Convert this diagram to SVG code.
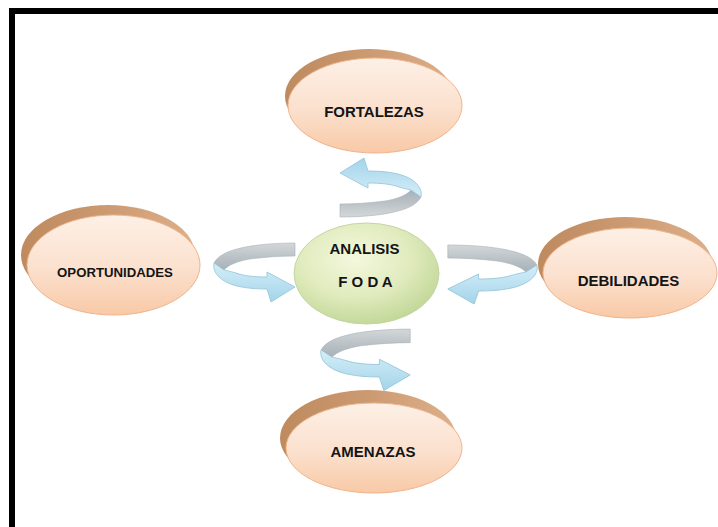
<svg xmlns="http://www.w3.org/2000/svg" width="718" height="527" viewBox="0 0 718 527">
<defs>
<style>
.lbl{font-family:"Liberation Sans",Arial,sans-serif;font-weight:bold;font-size:15px;fill:#141414;text-anchor:middle}
.main{fill:url(#peach);stroke:#f0b48c;stroke-width:1}
.shadow{fill:url(#brown)}
.back{fill:url(#grayband);stroke:#aab4ba;stroke-width:0.6}
.front{fill:url(#blueband);stroke:#93c3d8;stroke-width:0.8}
</style>
<linearGradient id="peach" x1="0" y1="0" x2="0" y2="1">
<stop offset="0" stop-color="#fdf0e6"/>
<stop offset="0.55" stop-color="#fbe0cd"/>
<stop offset="1" stop-color="#f8c9a6"/>
</linearGradient>
<linearGradient id="brown" x1="0" y1="0" x2="1" y2="0">
<stop offset="0" stop-color="#be8a5e"/>
<stop offset="0.5" stop-color="#cc9a71"/>
<stop offset="1" stop-color="#dcb08b"/>
</linearGradient>
<radialGradient id="green" cx="0.42" cy="0.35" r="0.7">
<stop offset="0" stop-color="#f4f8de"/>
<stop offset="0.55" stop-color="#e0ebbd"/>
<stop offset="1" stop-color="#bfd594"/>
</radialGradient>
<linearGradient id="grayband" x1="0" y1="0" x2="0" y2="1">
<stop offset="0" stop-color="#d3d7d9"/>
<stop offset="0.5" stop-color="#bcc3c7"/>
<stop offset="1" stop-color="#a5b1b8"/>
</linearGradient>
<linearGradient id="blueband" x1="0" y1="0" x2="0" y2="1">
<stop offset="0" stop-color="#d4eef8"/>
<stop offset="1" stop-color="#a4d4ea"/>
</linearGradient>
<g id="curl">
<path class="back" d="M82,3 C60,3 38,5 24,9 C12,12 4,17 1,23 L11,30 C15,25 25,21 37,19 C52,17 68,16 82,16 Z"/>
<path class="front" d="M1,23 C-1,33 8,42 24,46 C34,48.5 44,49 54,49 L58,62 L82,47 L54,32 L54,37 C42,37 31,36 23,33 C16,31 11,30 11,30 Z"/>
</g>
</defs>
<rect x="0" y="0" width="718" height="527" fill="#ffffff"/>
<rect x="12" y="11" width="720" height="530" fill="none" stroke="#000000" stroke-width="6"/>

<g id="connectors">
<use href="#curl" transform="translate(213,240)"/>
<use href="#curl" transform="translate(538,242) scale(-1.1,1)"/>
<use href="#curl" transform="translate(320,326) scale(1.1,1.04)"/>
<use href="#curl" transform="translate(422,220) scale(-1,-1)"/>
</g>

<g id="fortalezas">
<ellipse class="shadow" cx="369" cy="96" rx="84" ry="47"/>
<ellipse class="main" cx="375" cy="105.5" rx="87" ry="47.5"/>
<text class="lbl" x="374" y="117">FORTALEZAS</text>
</g>

<g id="oportunidades">
<ellipse class="shadow" cx="108" cy="255" rx="87" ry="50"/>
<ellipse class="main" cx="113.5" cy="265" rx="86.5" ry="50"/>
<text class="lbl" x="115" y="277" style="font-size:13.2px">OPORTUNIDADES</text>
</g>

<g id="debilidades">
<ellipse class="shadow" cx="625" cy="264" rx="87" ry="47"/>
<ellipse class="main" cx="630" cy="273" rx="87" ry="45"/>
<text class="lbl" x="628.5" y="285.5">DEBILIDADES</text>
</g>

<g id="amenazas">
<ellipse class="shadow" cx="368" cy="438" rx="88" ry="48"/>
<ellipse class="main" cx="374" cy="448" rx="88" ry="45"/>
<text class="lbl" x="373" y="456.5">AMENAZAS</text>
</g>

<g id="analisis-foda">
<ellipse cx="366.5" cy="273.5" rx="72.5" ry="50.5" fill="url(#green)" stroke="#c4d6a2" stroke-width="1"/>
<text class="lbl" x="364.5" y="253.5">ANALISIS</text>
<text class="lbl" x="365.5" y="286.5">F O D A</text>
</g>
</svg>
